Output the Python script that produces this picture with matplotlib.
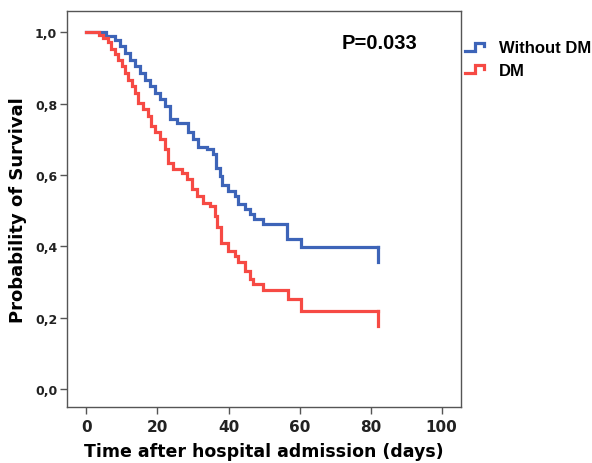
import numpy as np
import matplotlib
matplotlib.use("Agg")
import matplotlib.pyplot as plt
from matplotlib.legend_handler import HandlerBase
from matplotlib.lines import Line2D

# Kaplan-Meier steps
t_nodm = [0, 5.6, 8, 9.4, 10.8, 12.2, 13.6, 15, 16.4, 17.8, 19.2, 20.6, 22, 23.5, 25.5,
          28.5, 30, 31.4, 33.9, 35.7, 36.6, 37.6, 38.2, 39.8, 41.8, 42.7, 44.6, 46,
          47.2, 49.7, 56.5, 60.5, 82]
s_nodm = [1.0, 0.99, 0.98, 0.962, 0.943, 0.924, 0.906, 0.887, 0.868, 0.85, 0.831, 0.812,
          0.794, 0.758, 0.745, 0.72, 0.70, 0.68, 0.672, 0.66, 0.62, 0.597, 0.572, 0.555,
          0.54, 0.52, 0.505, 0.49, 0.476, 0.462, 0.42, 0.398, 0.398]
end_nodm = 0.355

t_dm = [0, 3.5, 4.6, 6, 7, 8, 8.8, 9.9, 10.8, 11.7, 12.7, 13.6, 14.5, 15.9, 17.3, 18.3,
        19.2, 20.6, 22, 22.9, 24.4, 26.8, 28.2, 29.6, 31, 32.8, 34.7, 36.1, 36.8, 38,
        39.8, 41.8, 42.7, 44.6, 46, 47, 49.7, 56.8, 60.5, 82]
s_dm = [1.0, 0.994, 0.985, 0.972, 0.955, 0.94, 0.924, 0.906, 0.887, 0.868, 0.85, 0.831,
        0.803, 0.784, 0.766, 0.738, 0.72, 0.70, 0.672, 0.635, 0.616, 0.607, 0.588, 0.56,
        0.54, 0.523, 0.513, 0.485, 0.455, 0.41, 0.387, 0.373, 0.355, 0.331, 0.308,
        0.294, 0.278, 0.252, 0.219, 0.219]
end_dm = 0.177

groups = ["Without DM", "DM"]
colors = ["#3d64b8", "#f64a44"]
p_text = "P=0.033"

xticks = [0, 20, 40, 60, 80, 100]
yticks = [0.0, 0.2, 0.4, 0.6, 0.8, 1.0]
ylabels = ["0,0", "0,2", "0,4", "0,6", "0,8", "1,0"]


class StepHandler(HandlerBase):
    def create_artists(self, legend, orig_handle, xdescent, ydescent, width, height,
                       fontsize, trans):
        w = width * 0.75
        xs = [0, w * 0.5, w * 0.5, w, w]
        ys = [height * 0.15, height * 0.15, height * 0.85, height * 0.85, height * 0.55]
        ln = Line2D(xs, ys, color=orig_handle.get_color(), lw=orig_handle.get_linewidth(),
                    solid_joinstyle="miter")
        ln.set_transform(trans)
        return [ln]


fig = plt.figure(figsize=(5.92, 4.64), dpi=100)
ax = fig.add_axes([0.113, 0.121, 0.666, 0.853])

lines = []
for t, s, e, c in [(t_nodm, s_nodm, end_nodm, colors[0]), (t_dm, s_dm, end_dm, colors[1])]:
    ln, = ax.plot(t, s, drawstyle="steps-post", color=c, lw=2.3, solid_joinstyle="miter")
    ax.plot([t[-1], t[-1]], [s[-1], e], color=c, lw=2.3)
    lines.append(ln)

ax.set_xlim(-5.5, 105.5)
ax.set_ylim(-0.05, 1.06)
ax.set_xticks(xticks)
ax.set_yticks(yticks)
ax.set_yticklabels(ylabels)

for sp in ax.spines.values():
    sp.set_color("#555555")
    sp.set_linewidth(1.0)
ax.tick_params(direction="out", length=5, width=1, color="#555555", labelcolor="#222222")
for lab in ax.get_xticklabels():
    lab.set_fontsize(11)
    lab.set_fontweight("bold")
for lab in ax.get_yticklabels():
    lab.set_fontsize(9)
    lab.set_fontweight("bold")
ax.tick_params(axis="y", pad=2)

ax.set_xlabel("Time after hospital admission (days)", fontsize=12.5, fontweight="bold",
              labelpad=6)
ax.set_ylabel("Probability of Survival", fontsize=13, fontweight="bold", labelpad=6)

ax.text(82.5, 0.972, p_text, ha="center", va="center", fontsize=14.5, fontweight="bold",
        family="Liberation Sans")

fig.legend(lines, groups, handler_map={Line2D: StepHandler()}, loc="upper left",
           bbox_to_anchor=(0.775, 0.925), frameon=False,
           prop={"family": "Liberation Sans", "weight": "bold", "size": 12},
           handlelength=1.5, handletextpad=0.5, labelspacing=0.45, borderaxespad=0)

fig.savefig("out.png", dpi=100)
